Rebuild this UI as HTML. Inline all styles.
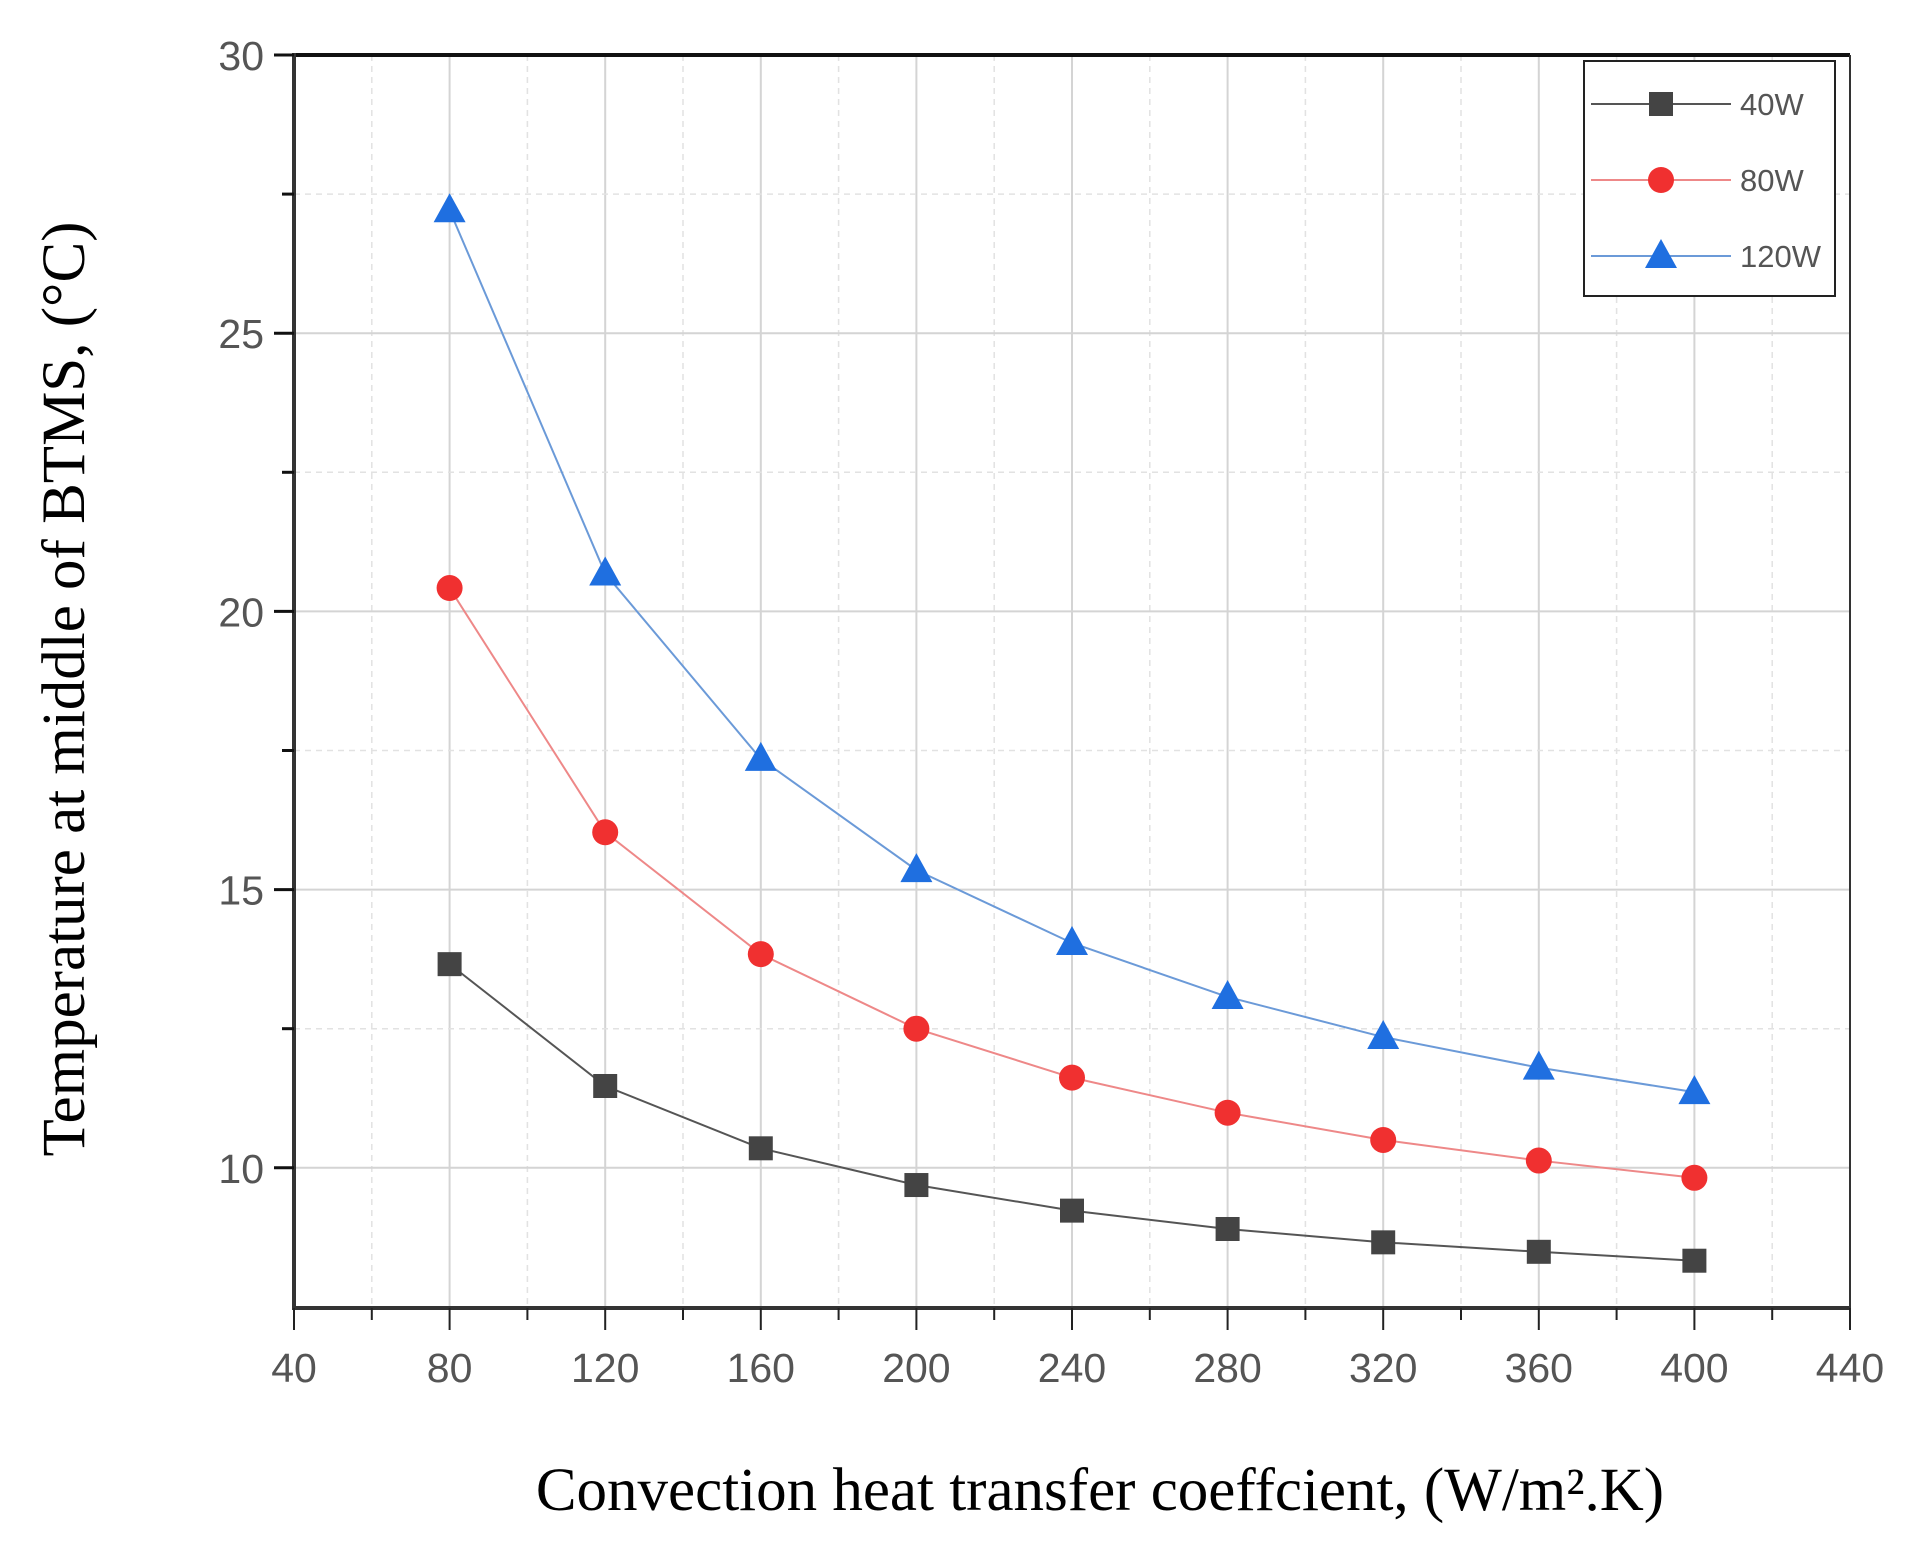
<!DOCTYPE html>
<html><head><meta charset="utf-8"><style>
html,body{margin:0;padding:0;background:#fff}
svg{display:block}
.tick{font-family:"Liberation Sans",sans-serif;font-size:41px;fill:#555}
.title{font-family:"Liberation Serif",serif;font-size:61px;fill:#000}
.leg{font-family:"Liberation Sans",sans-serif;font-size:31px;fill:#555}
</style></head><body>
<svg id="chart" width="1912" height="1554" viewBox="0 0 1912 1554" xmlns="http://www.w3.org/2000/svg"></svg>
<script>
const xCategories = [80,120,160,200,240,280,320,360,400];
const series40 = [13.66,11.47,10.35,9.69,9.23,8.90,8.66,8.49,8.33];
const series80 = [20.42,16.03,13.84,12.50,11.62,10.99,10.50,10.13,9.82];
const series120 = [27.21,20.68,17.35,15.35,14.04,13.07,12.35,11.80,11.36];
const xTicks = [40,80,120,160,200,240,280,320,360,400,440];
const yTicks = [10,15,20,25,30];
const seriesNames = ['40W','80W','120W'];

const L=294,R=1850,T=55,B=1308;
const xMin=40,xMax=440,yMin=7.48,yMax=30;
const xs=v=>L+(v-xMin)/(xMax-xMin)*(R-L);
const ys=v=>B-(v-yMin)/(yMax-yMin)*(B-T);
const svg=document.getElementById('chart');
const NS='http://www.w3.org/2000/svg';
function mk(tag,attrs,parent){const e=document.createElementNS(NS,tag);for(const k in attrs)e.setAttribute(k,attrs[k]);(parent||svg).appendChild(e);return e;}

const grid=mk('g',{});


for(let v=60;v<440;v+=20){const major=(v%40===0);
 mk('line',{x1:xs(v),x2:xs(v),y1:T,y2:B,stroke:major?'#d4d4d4':'#e2e2e2','stroke-width':major?2:1.5,'stroke-dasharray':major?'none':'6,5'},grid);}
for(let v=10;v<30;v+=2.5){const major=(v%5===0);
 mk('line',{x1:L,x2:R,y1:ys(v),y2:ys(v),stroke:major?'#d4d4d4':'#e2e2e2','stroke-width':major?2:1.5,'stroke-dasharray':major?'none':'6,5'},grid);}

const ax=mk('g',{});


mk('line',{x1:L,x2:R,y1:T,y2:T,stroke:'#111','stroke-width':4},ax);
mk('line',{x1:R,x2:R,y1:T,y2:B,stroke:'#333','stroke-width':2},ax);
mk('line',{x1:L,x2:L,y1:T-2,y2:B+2,stroke:'#333','stroke-width':4},ax);
mk('line',{x1:L-2,x2:R,y1:B,y2:B,stroke:'#333','stroke-width':4},ax);
for(let v=40;v<=440;v+=20){const major=(v%40===0);
 mk('line',{x1:xs(v),x2:xs(v),y1:B,y2:B+(major?22:12),stroke:'#222','stroke-width':2},ax);}
xTicks.forEach(v=>{const t=mk('text',{x:xs(v),y:B+74,'text-anchor':'middle',class:'tick'},ax);t.textContent=v;
 
 });
for(let v=10;v<=30;v+=2.5){const major=(v%5===0);
 mk('line',{x1:L,x2:L-(major?20:12),y1:ys(v),y2:ys(v),stroke:'#111','stroke-width':3},ax);}
yTicks.forEach(v=>{const t=mk('text',{x:L-30,y:ys(v)+15,'text-anchor':'end',class:'tick'},ax);t.textContent=v;
 
 });

const yt=mk('text',{x:0,y:0,transform:'translate(84,689) rotate(-90)','text-anchor':'middle',class:'title'});
yt.textContent='Temperature at middle of BTMS, (\u00b0C)';


const xt=mk('text',{x:1100,y:1510,'text-anchor':'middle',class:'title'});
xt.textContent='Convection heat transfer coeffcient, (W/m\u00b2.K)';



function marker(type,x,y,color,g){
 if(type==='sq') return mk('rect',{x:x-12,y:y-12,width:24,height:24,fill:color},g);
 if(type==='ci') return mk('circle',{cx:x,cy:y,r:13,fill:color},g);
 return mk('polygon',{points:`${x},${y-17} ${x+16},${y+12} ${x-16},${y+12}`,fill:color},g);
}
const defs=[[series40,'#444','#555','sq'],[series80,'#f03030','#e88','ci'],[series120,'#1f6fe0','#6b9ad8','tr']];
defs.forEach((d,i)=>{
 const g=mk('g',{});
 
 
 const pts=d[0].map((v,j)=>xs(xCategories[j])+','+ys(v)).join(' ');
 mk('polyline',{points:pts,fill:'none',stroke:d[2],'stroke-width':2},g);
 d[0].forEach((v,j)=>{const m=marker(d[3],xs(xCategories[j]),ys(v),d[1],g);
  
  });
});

const lg=mk('g',{});


mk('rect',{x:1584,y:61,width:251,height:235,fill:'#fff',stroke:'#222','stroke-width':2},lg);
defs.forEach((d,i)=>{const y=104+i*76;
 const e=mk('g',{},lg);
 
 
 mk('line',{x1:1591,x2:1731,y1:y,y2:y,stroke:d[2],'stroke-width':2},e);
 marker(d[3],1661,y,d[1],e);
 const t=mk('text',{x:1740,y:y+11,class:'leg'},e);t.textContent=seriesNames[i];});
</script>
</body></html>
